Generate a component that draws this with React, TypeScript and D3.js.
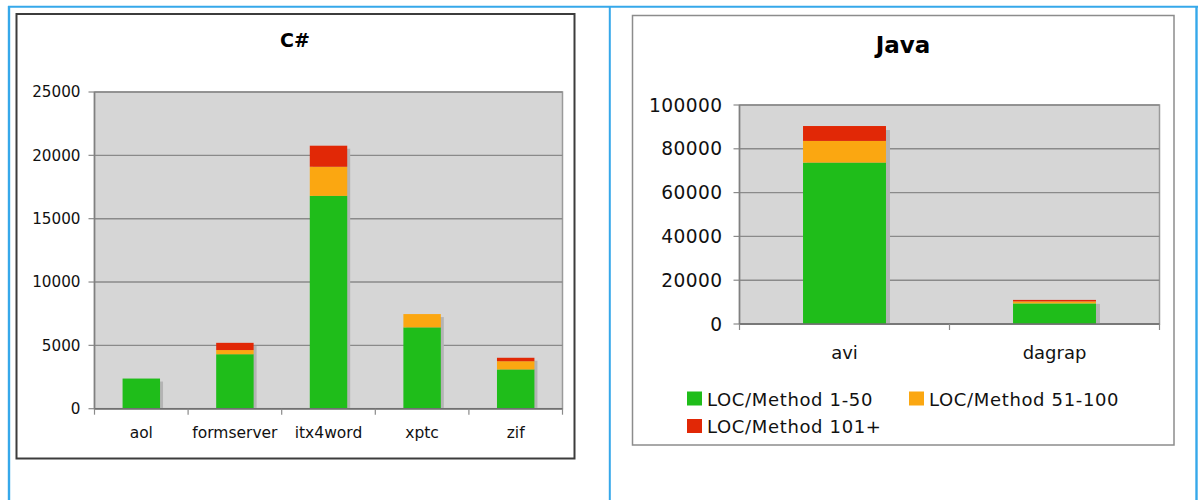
import React from "react";
import * as d3 from "d3";

// ---- Data ----
const seriesNames = ["LOC/Method 1-50", "LOC/Method 51-100", "LOC/Method 101+"];
const seriesColors = ["#1fbd1a", "#fba711", "#e12806"];

const csCategories = ["aol", "formserver", "itx4word", "xptc", "zif"];
const csLoc1to50 = [2380, 4300, 16800, 6420, 3100];
const csLoc51to100 = [0, 330, 2300, 1050, 650];
const csLoc101plus = [0, 570, 1660, 0, 270];
const csTicks = [0, 5000, 10000, 15000, 20000, 25000];

const javaCategories = ["avi", "dagrap"];
const javaLoc1to50 = [73700, 9400];
const javaLoc51to100 = [9900, 900];
const javaLoc101plus = [6800, 700];
const javaTicks = [0, 20000, 40000, 60000, 80000, 100000];

const FONT = "'DejaVu Sans', Verdana, sans-serif";

type ChartProps = {
  title: string;
  titleSize: number;
  titleX: number;
  titleY: number;
  categories: string[];
  series: number[][];
  ticks: number[];
  left: number;
  right: number;
  top: number;
  bottom: number;
  barRatio: number;
  tickFont: number;
  tickSpacing: number;
  tickGap: number;
  catFont: number;
  catY: number;
  shadow: number;
};

function Chart(p: ChartProps) {
  const x = d3.scaleBand<string>().domain(p.categories).range([p.left, p.right]).padding(0);
  const y = d3.scaleLinear().domain([0, p.ticks[p.ticks.length - 1]]).range([p.bottom, p.top]);
  const rows = p.categories.map((c, i) => {
    const o: any = { cat: c };
    p.series.forEach((s, k) => (o["s" + k] = s[i]));
    return o;
  });
  const keys = p.series.map((_, k) => "s" + k);
  const stacked = d3.stack<any>().keys(keys)(rows);
  const bw = x.bandwidth() * p.barRatio;
  const bx = (c: string) => (x(c) as number) + (x.bandwidth() - bw) / 2;
  const boundaries = p.categories.map((c) => x(c) as number).concat([p.right]);
  return (
    <g>
      <text x={p.titleX} y={p.titleY} textAnchor="middle" fontFamily={FONT} fontWeight="bold" fontSize={p.titleSize} fill="#000">
        {p.title}
      </text>
      <rect x={p.left} y={p.top} width={p.right - p.left} height={p.bottom - p.top} fill="#d6d6d6" stroke="#9a9a9a" strokeWidth={1.5} />
      {p.ticks.map((t) => (
        <g key={t}>
          <line x1={p.left} x2={p.right} y1={y(t)} y2={y(t)} stroke="#8a8a8a" strokeWidth={1.4} />
          <line x1={p.left - 6} x2={p.left} y1={y(t)} y2={y(t)} stroke="#8a8a8a" strokeWidth={1.2} />
          <text x={p.left - p.tickGap} y={y(t)} dy="0.36em" textAnchor="end" fontFamily={FONT} fontSize={p.tickFont} letterSpacing={p.tickSpacing} fill="#111">
            {t}
          </text>
        </g>
      ))}
      {/* shadows */}
      {p.categories.map((c, i) => {
        const top = stacked[stacked.length - 1][i][1];
        return (
          <rect key={"sh" + c} x={bx(c) + p.shadow} y={y(top) + p.shadow} width={bw} height={Math.max(0, p.bottom - y(top) - p.shadow)} fill="#b4b4b4" />
        );
      })}
      {stacked.map((layer, k) =>
        layer.map((d, i) => {
          const h = y(d[0]) - y(d[1]);
          if (h <= 0) return null;
          return <rect key={k + "-" + i} x={bx(p.categories[i])} y={y(d[1])} width={bw} height={h} fill={seriesColors[k]} />;
        })
      )}
      <line x1={p.left} x2={p.left} y1={p.top} y2={p.bottom} stroke="#808080" strokeWidth={1.5} />
      <line x1={p.left} x2={p.right} y1={p.bottom} y2={p.bottom} stroke="#707070" strokeWidth={1.6} />
      {boundaries.map((b, i) => (
        <line key={"bt" + i} x1={b} x2={b} y1={p.bottom} y2={p.bottom + 6} stroke="#8a8a8a" strokeWidth={1.2} />
      ))}
      {p.categories.map((c) => (
        <text key={"cl" + c} x={(x(c) as number) + x.bandwidth() / 2} y={p.catY} textAnchor="middle" fontFamily={FONT} fontSize={p.catFont} fill="#111">
          {c}
        </text>
      ))}
    </g>
  );
}

export default function App() {
  const legendItems = [
    { x: 687, y: 391.5, tx: 707, ty: 405.5 },
    { x: 909, y: 391.5, tx: 929, ty: 405.5 },
    { x: 687, y: 419, tx: 707, ty: 433 },
  ];
  return (
    <svg width={1204} height={500} style={{ position: "absolute", left: 0, top: 0, background: "#fff" }}>
      {/* outer table borders */}
      <line x1={9} x2={9} y1={6} y2={500} stroke="#36a8ea" strokeWidth={2.4} />
      <line x1={8} x2={1198} y1={6.8} y2={6.8} stroke="#36a8ea" strokeWidth={2} />
      <line x1={609.8} x2={609.8} y1={6} y2={500} stroke="#36a8ea" strokeWidth={2} />
      <line x1={1196.5} x2={1196.5} y1={6} y2={500} stroke="#36a8ea" strokeWidth={2.4} />

      {/* C# frame */}
      <rect x={16.5} y={14} width={558} height={444.5} fill="#fff" stroke="#3c3c3c" strokeWidth={2} />
      <Chart
        title="C#"
        titleSize={19}
        titleX={295}
        titleY={47}
        categories={csCategories}
        series={[csLoc1to50, csLoc51to100, csLoc101plus]}
        ticks={csTicks}
        left={94.5}
        right={562.5}
        top={92}
        bottom={408.7}
        barRatio={0.4}
        tickFont={15.2}
        tickSpacing={0}
        tickGap={14}
        catFont={15.5}
        catY={438.3}
        shadow={3}
      />

      {/* Java frame */}
      <rect x={632.5} y={15.5} width={541.5} height={429.5} fill="#fff" stroke="#8c8c8c" strokeWidth={1.5} />
      <Chart
        title="Java"
        titleSize={23}
        titleX={903}
        titleY={52.7}
        categories={javaCategories}
        series={[javaLoc1to50, javaLoc51to100, javaLoc101plus]}
        ticks={javaTicks}
        left={739.5}
        right={1159.5}
        top={105}
        bottom={324}
        barRatio={0.395}
        tickFont={18.6}
        tickSpacing={0.4}
        tickGap={17}
        catFont={18}
        catY={359}
        shadow={4}
      />
      {seriesNames.map((n, k) => (
        <g key={n}>
          <rect x={legendItems[k].x} y={legendItems[k].y} width={15} height={14} fill={seriesColors[k]} />
          <text x={legendItems[k].tx} y={legendItems[k].ty} fontFamily={FONT} fontSize={18} letterSpacing={0.65} fill="#111">
            {n}
          </text>
        </g>
      ))}
    </svg>
  );
}
